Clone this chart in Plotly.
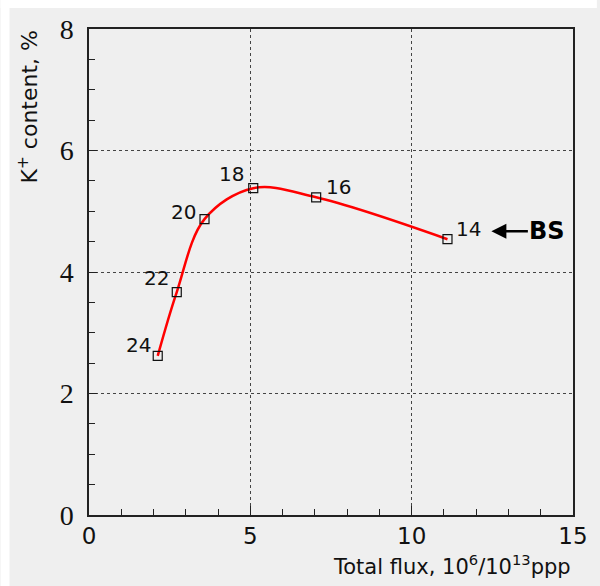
import plotly.graph_objects as go

# data
flux = [2.13, 2.72, 3.58, 5.09, 7.04, 11.11]
kplus = [2.62, 3.67, 4.87, 5.38, 5.23, 4.54]
labels = ["24", "22", "20", "18", "16", "14"]
label_dx = [-19, -20, -21, -22, 22, 21]
label_dy = [11, 14, 7, 14, 10, 10]

x_ticks = [0, 5, 10, 15]
y_ticks = [0, 2, 4, 6, 8]

BG = "#efefef"

fig = go.Figure()
fig.add_trace(go.Scatter(
    x=flux, y=kplus, mode="lines",
    line=dict(color="#ff0000", width=2.5, shape="spline", smoothing=1.0),
    hoverinfo="skip", showlegend=False,
))
fig.add_trace(go.Scatter(
    x=flux, y=kplus, mode="markers",
    marker=dict(symbol="square-open", size=9, color="#111",
                line=dict(width=1.2, color="#111")),
    showlegend=False,
))

for xv, yv, t, dx, dy in zip(flux, kplus, labels, label_dx, label_dy):
    fig.add_annotation(x=xv, y=yv, text=t, showarrow=False,
                       xshift=dx, yshift=dy,
                       font=dict(family="DejaVu Sans", size=20, color="#111"))

# BS arrow
fig.add_annotation(x=12.47, y=4.67, text="<b>BS</b>", showarrow=True,
                   ax=56, ay=0, arrowhead=2, arrowsize=1.2, arrowwidth=2.5,
                   arrowcolor="#000", standoff=0,
                   font=dict(family="DejaVu Sans", size=24, color="#000"))

# axis titles
fig.add_annotation(xref="paper", yref="paper", x=1.0, y=0, yshift=-50,
                   xanchor="right", yanchor="middle", showarrow=False,
                   text="Total flux, 10<sup>6</sup>/10<sup>13</sup>ppp",
                   font=dict(family="DejaVu Sans", size=21, color="#111"))
fig.add_annotation(xref="paper", yref="paper", x=0, xshift=-62, y=1.0,
                   xanchor="center", yanchor="top", textangle=-90,
                   showarrow=False,
                   text="K<sup>+</sup> content, %",
                   font=dict(family="DejaVu Sans", size=22, color="#111"))

# white strips at top and left edge
fig.add_shape(type="rect", xref="paper", yref="paper",
              x0=-89/487, x1=-80/487, y0=-71/486, y1=1 + 29/486,
              fillcolor="white", line=dict(width=0), layer="below")
fig.add_shape(type="rect", xref="paper", yref="paper",
              x0=-89/487, x1=1 + 24/487, y0=1 + 21/486, y1=1 + 29/486,
              fillcolor="white", line=dict(width=0), layer="below")

fig.update_xaxes(
    range=[0, 15], tickvals=x_ticks, ticktext=[str(v) for v in x_ticks],
    ticks="inside", ticklen=9, tickwidth=1, tickcolor="#222",
    minor=dict(dtick=1, ticks="inside", ticklen=6, tickcolor="#222", showgrid=False),
    showline=True, linecolor="#222", linewidth=1.5, mirror=True,
    showgrid=True, gridcolor="#444", griddash="dot", gridwidth=1,
    zeroline=False,
    tickfont=dict(family="DejaVu Sans", size=23, color="#111"),
)
fig.update_yaxes(
    range=[0, 8], tickvals=y_ticks, ticktext=[str(v) for v in y_ticks],
    ticks="inside", ticklen=8, tickwidth=1, tickcolor="#222",
    minor=dict(dtick=0.5, ticks="inside", ticklen=6, tickcolor="#222", showgrid=False),
    showline=True, linecolor="#222", linewidth=1.5, mirror=True,
    showgrid=True, gridcolor="#444", griddash="dot", gridwidth=1,
    zeroline=False, ticklabelstandoff=8,
    tickfont=dict(family="Liberation Serif", size=28, color="#111"),
)

fig.update_layout(
    width=600, height=586,
    margin=dict(l=89, r=24, t=29, b=71),
    paper_bgcolor=BG, plot_bgcolor=BG,
    showlegend=False,
)

fig.write_html("out.html")
